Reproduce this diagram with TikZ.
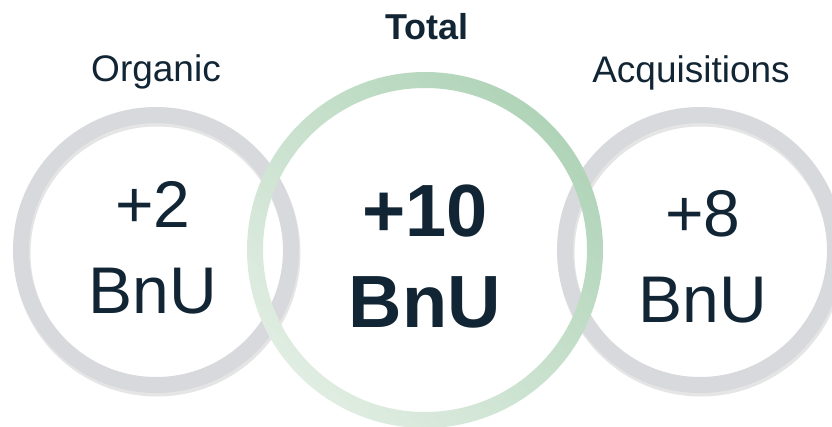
\documentclass[tikz,border=0pt]{standalone}
\usepackage{fontspec}
\setmainfont{Liberation Sans}
\begin{document}
\begin{tikzpicture}[x=1pt,y=1pt]
\definecolor{ink}{RGB}{17,37,52}
\definecolor{ringgray}{RGB}{216,217,220}
\definecolor{greendark}{RGB}{176,212,184}
\definecolor{greenlight}{RGB}{224,237,226}
\tikzset{
 grayring/.style={circle, draw=ringgray, line width=16pt, minimum size=270pt, inner sep=0pt},
 ringshadow/.style={circle, draw=black, draw opacity=0.10, line width=17pt, minimum size=270pt, inner sep=0pt},
 lbl/.style={text=ink, font=\fontsize{37}{40}\selectfont, anchor=base, inner sep=0pt},
 num/.style={text=ink, font=\fontsize{66}{70}\selectfont, anchor=base, inner sep=0pt},
 bignum/.style={text=ink, font=\bfseries\fontsize{74}{80}\selectfont, anchor=base, inner sep=0pt},
}
\useasboundingbox (0,0) rectangle (832,426);
% gray rings with soft shadow
\node[ringshadow] (orgsh) at (157,173) {};
\node[ringshadow] (acqsh) at (701,173) {};
\node[grayring] (org) at (156,176) {};
\node[grayring] (acq) at (700,176) {};
% green ring
\node[circle, minimum size=340pt, inner sep=0pt] (tot) at (425,176) {};
\shade[even odd rule, left color=greendark, right color=greenlight, shading angle=-45]
  (tot.center) circle (178pt) (tot.center) circle (162pt);
% labels
\node[lbl] (orglbl) at (156,344) {Organic};
\node[lbl, font=\bfseries\fontsize{36}{40}\selectfont] (totlbl) at (427,386) {Total};
\node[lbl] (acqlbl) at (691,343) {Acquisitions};
% values
\node[num] (orgnum) at (153,198) {+2};
\node[num] (orgunit) at (153,113) {BnU};
\node[bignum] (totnum) at (425,189) {+10};
\node[bignum] (totunit) at (425,99) {BnU};
\node[num] (acqnum) at (703,189) {+8};
\node[num] (acqunit) at (703,104) {BnU};
\end{tikzpicture}
\end{document}
